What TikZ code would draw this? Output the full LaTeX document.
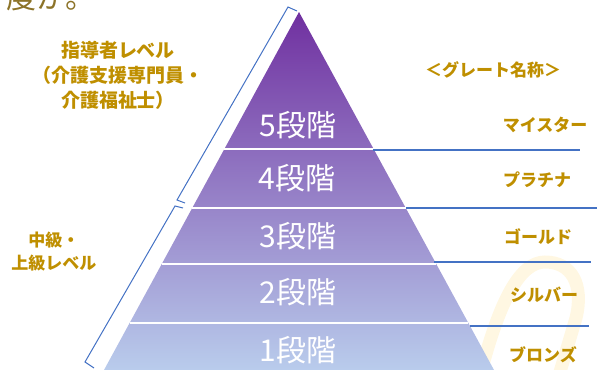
\documentclass[tikz,border=0pt]{standalone}
\usepackage{fontspec}
\newfontfamily\jp{Noto Sans CJK JP}
\usetikzlibrary{positioning}
\definecolor{gold}{HTML}{BF8F00}
\definecolor{darkgold}{HTML}{8C7328}
\definecolor{linkblue}{HTML}{4472C4}
\definecolor{toppurple}{HTML}{7030A0}
\definecolor{midpurple}{HTML}{9790C9}
\definecolor{lowblue}{HTML}{B9CCEC}
\definecolor{cream}{HTML}{FFF7E2}
\tikzset{
  grade/.style={text=gold,font=\jp\bfseries\fontsize{17}{17}\selectfont},
  side/.style={text=gold,align=center,font=\jp\bfseries\fontsize{19}{25}\selectfont},
  stage/.style={text=white,font=\jp\fontsize{30}{30}\selectfont},
  conn/.style={draw=linkblue,line width=1.2pt},
  brace/.style={draw=linkblue,line width=1pt}
}
\begin{document}
\begin{tikzpicture}[x=1pt,y=-1pt]
      \useasboundingbox (0,0) rectangle (598,370);
      % cut-off line of text above
      \begin{scope}
        \clip (0,0) rectangle (598,370);
        \node[anchor=base west,inner sep=0pt,text=darkgold,font=\jp\fontsize{30}{30}\selectfont] (top) at (6,8) {度か。};
        \draw[cream,line width=13pt,line cap=round] (481,372) .. controls (500,300) and (520,262) .. (545,262) .. controls (572,262) and (584,285) .. (576,318) -- (560,372);
      \end{scope}
      % pyramid
      \shade[top color=toppurple,middle color=midpurple,bottom color=lowblue] (299,12) -- (494,370) -- (104,370) -- cycle;
      \foreach \y in {149,208,264,323}
      \draw[white,line width=1.5pt] ({299-0.545*(\y-12)},\y) -- ({299+0.545*(\y-12)},\y);
      \node[stage] (l5) at (298,125) {5段階};
      \node[stage] (l4) at (297,178) {4段階};
      \node[stage] (l3) at (298,236) {3段階};
      \node[stage] (l2) at (298,292) {2段階};
      \node[stage] (l1) at (298,350) {1段階};
      % grade names
      \node[grade] (head) at (493,70) {＜グレート名称＞};
      \node[grade] (g5) at (545,125) {マイスター};
      \node[grade] (g4) at (537,180) {プラチナ};
      \node[grade] (g3) at (538,237) {ゴールド};
      \node[grade] (g2) at (544,295) {シルバー};
      \node[grade] (g1) at (543,355) {ブロンズ};
      \coordinate (e5) at (373,150);
      \coordinate (r5) at (580,150);
      \coordinate (e4) at (406,208);
      \coordinate (r4) at (597,208);
      \coordinate (e3) at (434,262);
      \coordinate (r3) at (591,262);
      \coordinate (e2) at (470,326);
      \coordinate (r2) at (589,326);
      \draw[conn] (e5) -- (r5);
      \draw[conn] (e4) -- (r4);
      \draw[conn] (e3) -- (r3);
      \draw[conn] (e2) -- (r2);
      % brackets on the left
      \draw[brace] (297,11) -- (288,7) -- (177,200) -- (185,203);
      \draw[brace] (183,208) -- (175,206) -- (85,362) -- (94,368);
      \node[side] (lead) at (118,75) {指導者レベル\\（介護支援専門員・\\介護福祉士）};
      \node[side,font=\jp\bfseries\fontsize{17}{23}\selectfont] (mid) at (54,252) {中級・\\上級レベル};
     \end{tikzpicture}
\end{document}
